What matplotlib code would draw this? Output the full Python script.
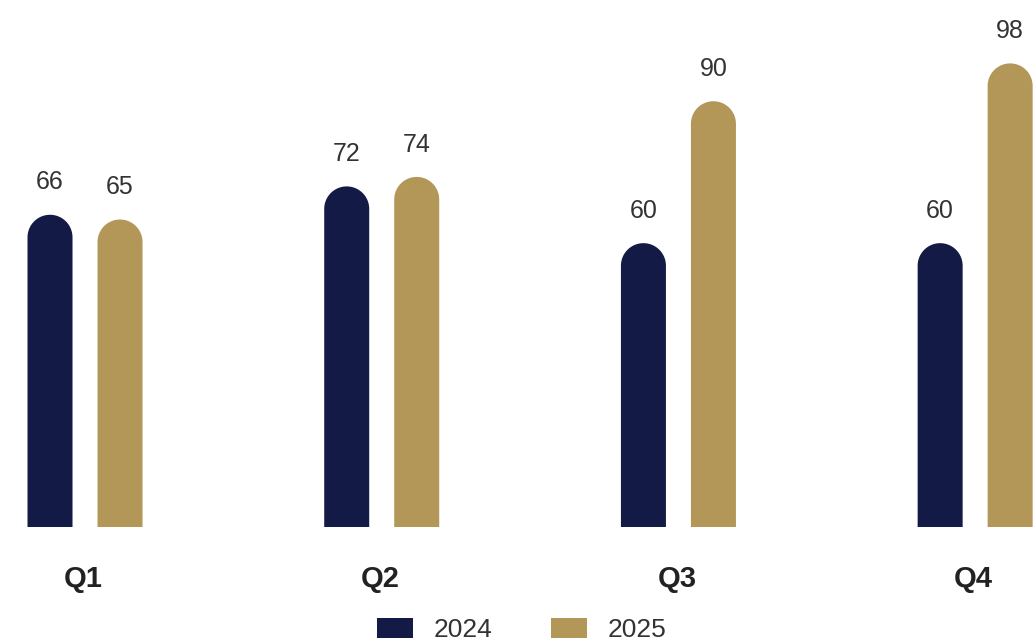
import numpy as np
import matplotlib
matplotlib.use("Agg")
import matplotlib.pyplot as plt
from matplotlib.patches import Polygon, Patch

quarters = ["Q1", "Q2", "Q3", "Q4"]
years = ["2024", "2025"]
v2024 = [66, 72, 60, 60]
v2025 = [65, 74, 90, 98]
colors = ["#121a45", "#b39759"]

plt.rcParams["font.family"] = ["Liberation Sans", "DejaVu Sans"]

fig = plt.figure(figsize=(10.33, 6.43), dpi=100)
ax = fig.add_axes([0, 116 / 643, 1, 527 / 643])
ax.set_xlim(-0.2865, 3.195)
ax.set_ylim(0, 111.4)
ax.axis("off")

w = 45 / 296.7
off = 35 / 296.7
ry = 22.5 / 4.73  # cap radius in data units
t = np.linspace(0, np.pi, 60)


def rounded_bar(x, v, c):
    # one outline: straight sides + semicircular top (in data units)
    arc = np.column_stack([x + w / 2 * np.cos(t), v - ry + ry * np.sin(t)])
    pts = np.vstack([[x + w / 2, 0], arc, [x - w / 2, 0]])
    ax.add_patch(Polygon(pts, closed=True, fc=c, ec="none"))
    ax.text(x, v + 4.3, f"{v}", ha="center", va="bottom", fontsize=18, color="#333333")


x = np.arange(len(quarters))
for i in range(len(quarters)):
    rounded_bar(x[i] - off, v2024[i], colors[0])
    rounded_bar(x[i] + off, v2025[i], colors[1])
    ax.text(x[i] - 0.005, -11, quarters[i], ha="center", va="center",
            fontsize=21, fontweight="bold", color="#222222")

handles = [Patch(fc=c, ec="none") for c in colors]
fig.legend(handles, years, loc="center", bbox_to_anchor=(0.505, 0.02), ncol=2,
           frameon=False, fontsize=19, handlelength=1.36, handleheight=0.75,
           handletextpad=0.8, columnspacing=2.2, labelcolor="#333333")

fig.savefig("out.png", dpi=100)
